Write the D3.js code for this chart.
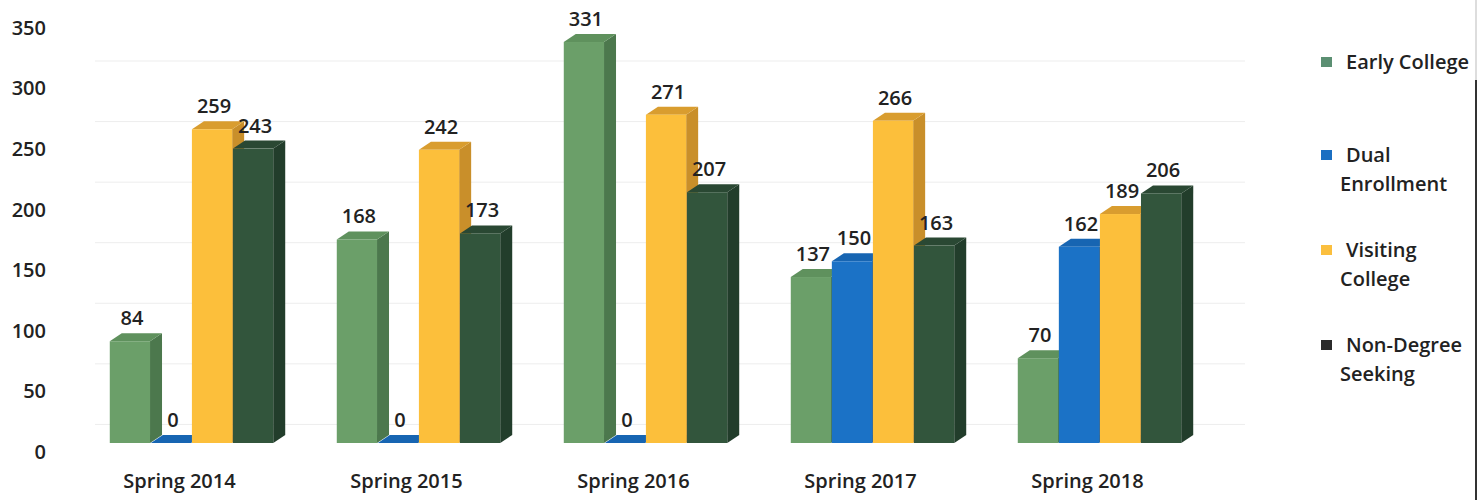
<!DOCTYPE html>
<html>
<head>
<meta charset="utf-8">
<script src="https://cdn.jsdelivr.net/npm/d3@7"></script>
<style>
  body { margin: 0; background: #fff; }
  text { font-family: "Open Sans", sans-serif; font-weight: 600; fill: #222; }
</style>
</head>
<body>
<div class="chart"></div>
<script>
// Chart data
var categories = ["Spring 2014", "Spring 2015", "Spring 2016", "Spring 2017", "Spring 2018"];
var seriesNames = ["Early College", "Dual Enrollment", "Visiting College", "Non-Degree Seeking"];
var earlyCollege = [84, 168, 331, 137, 70];
var dualEnrollment = [0, 0, 0, 150, 162];
var visitingCollege = [259, 242, 271, 266, 189];
var nonDegree = [243, 173, 207, 163, 206];
var yTicks = [0, 50, 100, 150, 200, 250, 300, 350];
var legendLines = [["Early College"], ["Dual", "Enrollment"], ["Visiting", "College"], ["Non-Degree", "Seeking"]];

var seriesValues = [earlyCollege, dualEnrollment, visitingCollege, nonDegree];

// face colours per series: front, side, top
var faceColors = [
    { front: "#6b9f69", side: "#4c784d", top: "#5f915d", legend: "#5b8f72" },
    { front: "#1b72c6", side: "#13589c", top: "#1765b2", legend: "#1b6fc2" },
    { front: "#fcbf3b", side: "#c98f2a", top: "#d99d2f", legend: "#fbbf3e" },
    { front: "#32553c", side: "#223d2b", top: "#2a4833", legend: "#2b2b2b" }
];

var svgWidth = 1478;
var svgHeight = 500;
var depthX = 12;
var depthY = -8;
var frontShift = 9; // front faces sit a little above the axis label line

var svg = d3.select(".chart")
    .append("svg")
    .attr("width", svgWidth)
    .attr("height", svgHeight);

// Scales
var yScale = d3.scaleLinear().domain([0, 350]).range([452, 28]);

var xScale = d3.scaleBand()
    .domain(categories)
    .range([78, 1213])
    .paddingInner(0.28)
    .paddingOuter(0.14);

var xInner = d3.scaleBand()
    .domain(seriesNames)
    .range([0, xScale.bandwidth()])
    .paddingInner(0.02);

// Faint back-wall gridlines
svg.append("g")
    .selectAll("line")
    .data(yTicks.slice(1))
    .enter()
    .append("line")
    .attr("x1", 95)
    .attr("x2", 1245)
    .attr("y1", function (d) { return yScale(d) + 33; })
    .attr("y2", function (d) { return yScale(d) + 33; })
    .attr("stroke", "#ededed")
    .attr("stroke-width", 1);

// Y axis (labels only)
var leftAxis = d3.axisLeft(yScale).tickValues(yTicks).tickSize(0).tickPadding(0);
var yAxisG = svg.append("g")
    .attr("transform", "translate(46,0)")
    .call(leftAxis);
yAxisG.select(".domain").remove();
yAxisG.selectAll("text")
    .style("font-size", "20px")
    .attr("fill", "#222");

// Flatten bars, left to right so each bar hides the side of the one before it
var bars = [];
categories.forEach(function (cat, ci) {
    seriesNames.forEach(function (name, si) {
        bars.push({ cat: cat, series: name, si: si, value: seriesValues[si][ci] });
    });
});

var barG = svg.append("g");

bars.forEach(function (b) {
    var x = xScale(b.cat) + xInner(b.series);
    var w = xInner.bandwidth();
    var base = yScale(0) - frontShift;
    var top = yScale(b.value) - frontShift;
    var c = faceColors[b.si];
    var g = barG.append("g");

    // side face
    g.append("polygon")
        .attr("points", [
            [x + w, top], [x + w + depthX, top + depthY],
            [x + w + depthX, base + depthY], [x + w, base]
        ].join(" "))
        .attr("fill", c.side);

    // top face
    g.append("polygon")
        .attr("points", [
            [x, top], [x + depthX, top + depthY],
            [x + w + depthX, top + depthY], [x + w, top]
        ].join(" "))
        .attr("fill", c.top);

    // front face
    g.append("rect")
        .attr("x", x)
        .attr("y", top)
        .attr("width", w)
        .attr("height", base - top)
        .attr("fill", c.front);
});

// Value labels
svg.append("g")
    .selectAll("text")
    .data(bars)
    .enter()
    .append("text")
    .attr("x", function (d) { return xScale(d.cat) + xInner(d.series) + xInner.bandwidth() / 2 + 2; })
    .attr("y", function (d) { return yScale(d.value) - frontShift - 16; })
    .attr("text-anchor", "middle")
    .style("font-size", "20px")
    .text(function (d) { return d.value; });

// Category labels
svg.append("g")
    .selectAll("text")
    .data(categories)
    .enter()
    .append("text")
    .attr("x", function (d) { return xScale(d) + xScale.bandwidth() / 2 - 12; })
    .attr("y", 488)
    .attr("text-anchor", "middle")
    .style("font-size", "20px")
    .text(function (d) { return d; });

// Legend
var legendY = [62, 155, 250, 345];
var legend = svg.append("g");
legendLines.forEach(function (lines, i) {
    legend.append("rect")
        .attr("x", 1321)
        .attr("y", legendY[i] - 5)
        .attr("width", 11)
        .attr("height", 10)
        .attr("fill", faceColors[i].legend);
    lines.forEach(function (line, li) {
        legend.append("text")
            .attr("x", li === 0 ? 1346 : 1340)
            .attr("y", legendY[i] + 7 + li * 29)
            .style("font-size", "20px")
            .text(line);
    });
});

// Right border
svg.append("line")
    .attr("x1", 1476).attr("x2", 1476)
    .attr("y1", 0).attr("y2", 80)
    .attr("stroke", "#bbb").attr("stroke-width", 1);
svg.append("line")
    .attr("x1", 1476).attr("x2", 1476)
    .attr("y1", 80).attr("y2", 500)
    .attr("stroke", "#333").attr("stroke-width", 2);
</script>
</body>
</html>
